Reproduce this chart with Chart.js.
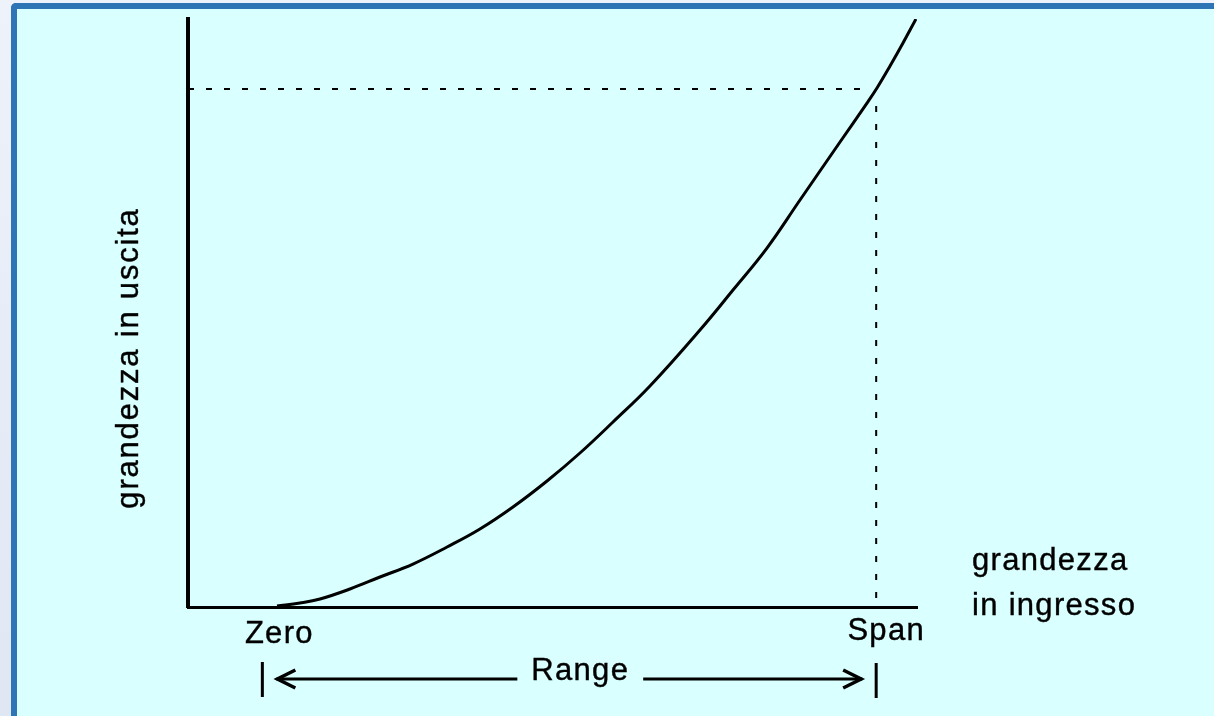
<!DOCTYPE html>
<html><head><meta charset="utf-8">
<script src="https://cdn.jsdelivr.net/npm/chart.js@4/dist/chart.umd.min.js"></script>
<style>
html,body{margin:0;padding:0;width:1214px;height:716px;overflow:hidden;background:linear-gradient(180deg,#eef2fa,#dfe7f3);}
#frame{position:absolute;left:11px;top:3px;width:1230px;height:740px;border-top:6px solid #2e75b6;border-left:6px solid #2e75b6;border-top-left-radius:5px;background:#d9ffff;}
#c{position:absolute;left:0;top:0;}
</style></head><body>
<div id="frame"></div>
<canvas id="c" width="1214" height="716"></canvas>
<script>
// input quantity (x) and output quantity (y) of the non-linear characteristic
const curveX = [12.21, 15.36, 18.11, 22.22, 26.34, 30.86, 35.53, 40.05, 44.58, 49.25, 53.77, 58.30, 63.37, 70.23, 74.76, 79.42, 83.95, 89.44, 93.14, 94.51, 96.30, 98.08, 99.86];
const curveY = [0.17, 0.68, 1.36, 3.06, 5.10, 7.31, 10.20, 13.27, 17.01, 21.43, 26.19, 31.46, 37.59, 47.11, 53.91, 61.05, 69.22, 79.08, 85.71, 88.27, 92.01, 95.92, 100];
const zeroValue = 10.2;
const spanValue = 94.4;
const spanOutput = 88.1;
const guideHEnd = 93.0;
const guideVTop = 85.2;
const guideVBottom = 1.2;
const tickLabels = ['Zero', 'Span'];
const yTitle = 'grandezza in uscita';
const xTitle = ['grandezza', 'in ingresso'];
const rangeLabel = 'Range';

const FONT = '31px "Liberation Sans", Arial, sans-serif';

const curve = curveX.map((x, i) => ({x, y: curveY[i]}));
const guideH = [{x: 0, y: spanOutput}, {x: guideHEnd, y: spanOutput}];
const guideV = [{x: spanValue, y: guideVTop}, {x: spanValue, y: guideVBottom}];

function text(ctx, s, x, y) {
  ctx.fillText(s, x, y);
  ctx.strokeText(s, x, y);
}

const annot = {
  id: 'annot',
  afterDraw(chart) {
    const ctx = chart.ctx;
    const xs = chart.scales.x, ys = chart.scales.y;
    const x0 = xs.getPixelForValue(zeroValue);
    const x1 = xs.getPixelForValue(spanValue);
    const base = ys.getPixelForValue(0);
    ctx.save();
    ctx.fillStyle = '#000';
    ctx.strokeStyle = '#000';
    ctx.lineWidth = 0.4;
    ctx.font = FONT;
    try { ctx.letterSpacing = '1.3px'; } catch (e) {}
    ctx.textBaseline = 'alphabetic';
    ctx.textAlign = 'center';
    // tick labels
    text(ctx, tickLabels[0], x0 + 17, base + 36);
    text(ctx, tickLabels[1], x1 + 10, base + 33);
    // x title
    ctx.textAlign = 'left';
    text(ctx, xTitle[0], 972, base - 37);
    text(ctx, xTitle[1], 972, base + 8);
    // y title
    ctx.save();
    try { ctx.letterSpacing = '1.8px'; } catch (e) {}
    ctx.translate(129, 358);
    ctx.rotate(-Math.PI / 2);
    ctx.textAlign = 'center';
    ctx.textBaseline = 'middle';
    text(ctx, yTitle, 0, 0);
    ctx.restore();
    // range arrow
    const ay = base + 72;
    const tx = (x0 + x1) / 2 + 11;
    ctx.textAlign = 'center';
    text(ctx, rangeLabel, tx, ay + 1);
    const tw = ctx.measureText(rangeLabel).width;
    ctx.lineWidth = 3;
    ctx.lineCap = 'butt';
    ctx.beginPath();
    ctx.moveTo(x0, ay - 17); ctx.lineTo(x0, ay + 18);
    ctx.moveTo(x1, ay - 16); ctx.lineTo(x1, ay + 19);
    ctx.moveTo(x0 + 14, ay); ctx.lineTo(tx - tw / 2 - 14, ay);
    ctx.moveTo(tx + tw / 2 + 14, ay); ctx.lineTo(x1 - 14, ay);
    ctx.stroke();
    ctx.lineWidth = 3.5;
    ctx.lineJoin = 'miter';
    ctx.beginPath();
    ctx.moveTo(x0 + 33, ay - 9); ctx.lineTo(x0 + 15, ay); ctx.lineTo(x0 + 33, ay + 9);
    ctx.moveTo(x1 - 33, ay - 9); ctx.lineTo(x1 - 15, ay); ctx.lineTo(x1 - 33, ay + 9);
    ctx.stroke();
    ctx.restore();
  }
};

new Chart(document.getElementById('c'), {
  type: 'scatter',
  data: {
    datasets: [
      {data: curve, showLine: true, borderColor: '#000', borderWidth: 3, pointRadius: 0, tension: 0.4, fill: false},
      {data: guideH, showLine: true, borderColor: '#000', borderWidth: 2, borderDash: [6, 12], pointRadius: 0},
      {data: guideV, showLine: true, borderColor: '#000', borderWidth: 2, borderDash: [6, 12], pointRadius: 0}
    ]
  },
  options: {
    responsive: false,
    animation: false,
    devicePixelRatio: 1,
    layout: {padding: {left: 188, right: 297, top: 19, bottom: 109}},
    plugins: {legend: {display: false}, tooltip: {enabled: false}},
    scales: {
      x: {type: 'linear', min: 0, max: 100, grid: {display: false, drawTicks: false, tickLength: 0}, ticks: {display: false}, border: {display: true, color: '#000', width: 3}},
      y: {type: 'linear', min: 0, max: 100, grid: {display: false, drawTicks: false, tickLength: 0}, ticks: {display: false}, border: {display: true, color: '#000', width: 4}}
    }
  },
  plugins: [annot]
});
</script>
</body></html>
